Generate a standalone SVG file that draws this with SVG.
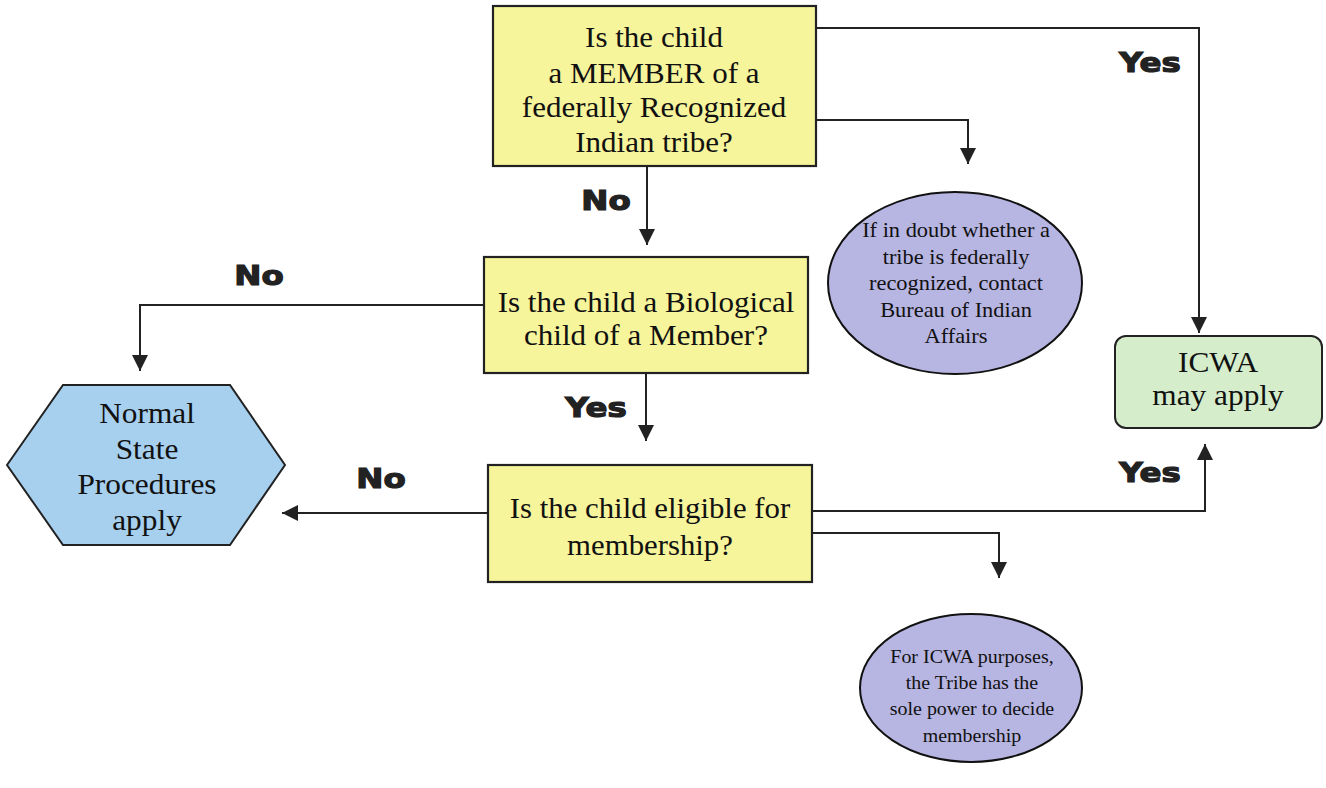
<svg xmlns="http://www.w3.org/2000/svg" width="1326" height="788" viewBox="0 0 1326 788">
<defs>
<style>
.q{fill:#f7f59c;stroke:#222;stroke-width:2.2}
.note{fill:#b7b5e2;stroke:#111;stroke-width:2}
.t{font-family:"Liberation Serif",serif;fill:#111;text-anchor:middle}
.lbl{font-family:"DejaVu Sans","Liberation Sans",sans-serif;font-weight:bold;font-size:27px;fill:#222;stroke:#222;stroke-width:1.2;text-anchor:middle}
.c{fill:none;stroke:#222;stroke-width:2}
</style>
<marker id="ah" viewBox="0 0 10 10" refX="10" refY="5" markerWidth="16" markerHeight="16" markerUnits="userSpaceOnUse" orient="auto">
<path d="M0,0 L10,5 L0,10 z" fill="#222"/>
</marker>
</defs>
<rect width="1326" height="788" fill="#ffffff"/>
<g id="connectors">
<path class="c" d="M816,28 H1199 V333" marker-end="url(#ah)"/>
<path class="c" d="M816,120 H968 V164" marker-end="url(#ah)"/>
<path class="c" d="M647,167 V245" marker-end="url(#ah)"/>
<path class="c" d="M484,305 H140 V371" marker-end="url(#ah)"/>
<path class="c" d="M646,373 V441" marker-end="url(#ah)"/>
<path class="c" d="M488,513 H282" marker-end="url(#ah)"/>
<path class="c" d="M812,511 H1205 V444" marker-end="url(#ah)"/>
<path class="c" d="M812,533 H999 V578" marker-end="url(#ah)"/>
</g>
<g id="labels">
<text class="lbl" transform="translate(1150 72) scale(1.2 1)" x="0" y="0">Yes</text>
<text class="lbl" transform="translate(606 210) scale(1.2 1)" x="0" y="0">No</text>
<text class="lbl" transform="translate(259 285) scale(1.2 1)" x="0" y="0">No</text>
<text class="lbl" transform="translate(596 417) scale(1.2 1)" x="0" y="0">Yes</text>
<text class="lbl" transform="translate(381 488) scale(1.2 1)" x="0" y="0">No</text>
<text class="lbl" transform="translate(1150 482) scale(1.2 1)" x="0" y="0">Yes</text>
</g>
<g id="q1">
<rect class="q" x="493" y="6" width="323" height="160"/>
<text class="t" font-size="29" transform="translate(654 0) scale(1.07 1)"><tspan x="0" y="47">Is the child</tspan><tspan x="0" y="83">a MEMBER of a</tspan><tspan x="0" y="117">federally Recognized</tspan><tspan x="0" y="152">Indian tribe?</tspan></text>
</g>
<g id="q2">
<rect class="q" x="484" y="257" width="324" height="116"/>
<text class="t" font-size="28.5" transform="translate(646 0) scale(1.09 1)"><tspan x="0" y="312">Is the child a Biological</tspan><tspan x="0" y="345">child of a Member?</tspan></text>
</g>
<g id="q3">
<rect class="q" x="488" y="465" width="324" height="117"/>
<text class="t" font-size="28.5" transform="translate(650 0) scale(1.08 1)"><tspan x="0" y="518">Is the child eligible for</tspan><tspan x="0" y="555">membership?</tspan></text>
</g>
<g id="note1">
<ellipse class="note" cx="955" cy="283" rx="127" ry="91"/>
<text class="t" font-size="20" transform="translate(956 0) scale(1.12 1)"><tspan x="0" y="237">If in doubt whether a</tspan><tspan x="0" y="264">tribe is federally</tspan><tspan x="0" y="290">recognized, contact</tspan><tspan x="0" y="317">Bureau of Indian</tspan><tspan x="0" y="343">Affairs</tspan></text>
</g>
<g id="note2">
<ellipse class="note" cx="971" cy="688" rx="111" ry="74"/>
<text class="t" font-size="19" transform="translate(972 0) scale(1.05 1)"><tspan x="0" y="663">For ICWA purposes,</tspan><tspan x="0" y="689">the Tribe has the</tspan><tspan x="0" y="715">sole power to decide</tspan><tspan x="0" y="742">membership</tspan></text>
</g>
<g id="normal">
<polygon points="7,465 63,385 230,385 285,465 230,545 63,545" fill="#a7cfee" stroke="#222" stroke-width="2"/>
<text class="t" font-size="29" transform="translate(147 0) scale(1.08 1)"><tspan x="0" y="423">Normal</tspan><tspan x="0" y="459">State</tspan><tspan x="0" y="494">Procedures</tspan><tspan x="0" y="530">apply</tspan></text>
</g>
<g id="icwa">
<rect x="1115" y="336" width="207" height="92" rx="11" fill="#d5edcb" stroke="#222" stroke-width="2"/>
<text class="t" font-size="29" transform="translate(1218 0) scale(1.08 1)"><tspan x="0" y="372">ICWA</tspan><tspan x="0" y="405">may apply</tspan></text>
</g>
</svg>
